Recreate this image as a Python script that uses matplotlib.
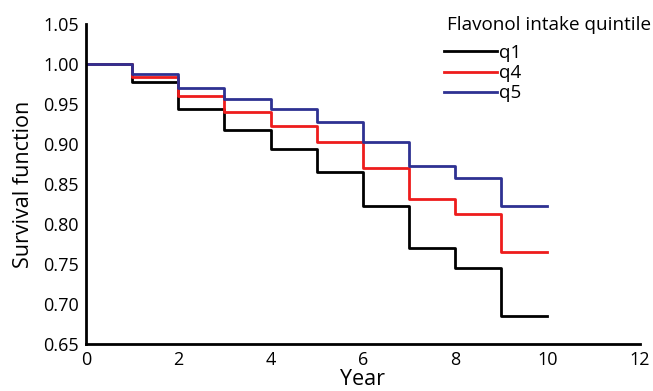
import matplotlib.pyplot as plt

plt.rcParams['font.family'] = ['Open Sans', 'DejaVu Sans']

years = [0, 1, 2, 3, 4, 5, 6, 7, 8, 9, 10]
q1 = [1.000, 0.978, 0.944, 0.917, 0.894, 0.865, 0.822, 0.770, 0.745, 0.685, 0.685]
q4 = [1.000, 0.984, 0.960, 0.940, 0.923, 0.902, 0.870, 0.831, 0.812, 0.765, 0.765]
q5 = [1.000, 0.988, 0.970, 0.956, 0.944, 0.927, 0.902, 0.873, 0.858, 0.822, 0.822]
labels = ['q1', 'q4', 'q5']
colors = ['#000000', '#ee1c1c', '#2e3192']

fig = plt.figure(figsize=(6.53, 3.91), dpi=100)
ax = fig.add_axes([0.1317, 0.120, 0.848, 0.8186])

for ys, lab, c in zip([q1, q4, q5], labels, colors):
    ax.step(years, ys, where='post', color=c, lw=2, label=lab)

ax.set_xlim(0, 12)
ax.set_ylim(0.65, 1.05)
ax.set_xticks(range(0, 13, 2))
ax.set_yticks([0.65, 0.70, 0.75, 0.80, 0.85, 0.90, 0.95, 1.00, 1.05])
ax.set_yticklabels(['%.2f' % v for v in ax.get_yticks()])
ax.tick_params(length=0, labelsize=13, pad=5)
ax.spines['top'].set_visible(False)
ax.spines['right'].set_visible(False)
ax.spines['left'].set_linewidth(2)
ax.spines['bottom'].set_linewidth(2)
ax.set_xlabel('Year', fontsize=15.5, labelpad=0)
ax.set_ylabel('Survival function', fontsize=15.5, labelpad=7)

# legend title drawn separately to get the larger gap above the entries
fig.text(0.6845, 0.937, 'Flavonol intake quintile', fontsize=13.6, va='center', ha='left')
leg = ax.legend(loc='upper left', bbox_to_anchor=(0.646, 0.938), frameon=False,
                fontsize=13.5, handlelength=2.85, handletextpad=0.1,
                labelspacing=0.12, borderpad=0, borderaxespad=0)

plt.savefig('out.png', dpi=100)
